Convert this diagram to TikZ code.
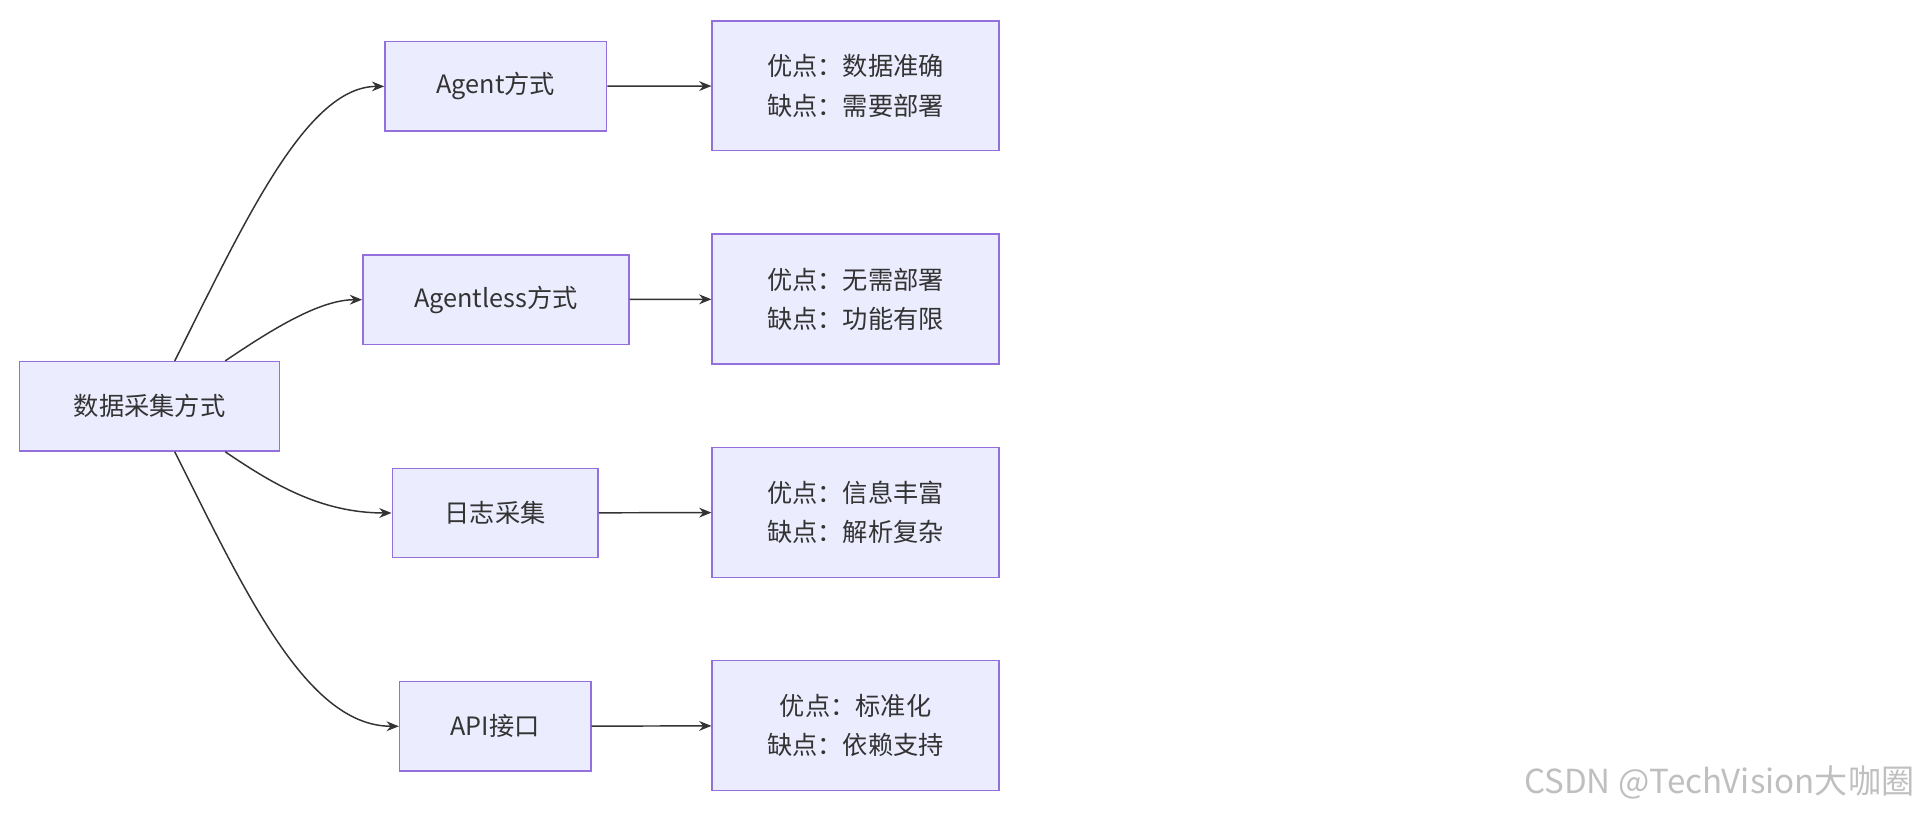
\documentclass[tikz,border=0pt]{standalone}
\usepackage{fontspec}
\setmainfont{Noto Sans CJK SC}
\usetikzlibrary{arrows.meta}
\definecolor{boxfill}{HTML}{ECECFF}
\definecolor{boxline}{HTML}{9370DB}
\definecolor{linkcol}{HTML}{333333}
\begin{document}
\begin{tikzpicture}[x=0.5pt,y=0.5pt,yscale=-1,xscale=1,
    box/.style={draw=boxline,fill=boxfill,line width=0.6pt,minimum height=36.5pt,inner sep=0pt,font=\fontsize{10.3}{12}\selectfont,text=linkcol},
    note/.style={box,minimum width=117pt,minimum height=53pt,align=center,font=\fontsize{10.3}{16}\selectfont},
    link/.style={draw=linkcol,line width=0.6pt,-{Stealth[length=5pt,width=4pt]}}]
    \useasboundingbox (0,0) rectangle (1568,667);

    % left side
    \node [box,minimum width=106pt] (root) at (122,331.5) {数据采集方式};
    \node [box,minimum width=90.5pt] (agent) at (404.5,70.5) {Agent方式};
    \node [box,minimum width=108.5pt] (agentless) at (404.5,244.5) {Agentless方式};
    \node [box,minimum width=84pt] (log) at (404,418.5) {日志采集};
    \node [box,minimum width=78pt] (api) at (404,592.5) {API接口};

    % right side
    \node [note] (agentNote) at (698,70) {优点：数据准确\\缺点：需要部署};
    \node [note] (agentlessNote) at (698,244) {优点：无需部署\\缺点：功能有限};
    \node [note] (logNote) at (698,418) {优点：信息丰富\\缺点：解析复杂};
    \node [note] (apiNote) at (698,592) {优点：标准化\\缺点：依赖支持};

    % links
    \draw [link] (root.61) .. controls (200,180) and (250,70.5) .. (agent.west);
    \draw [link] (root.31) .. controls (220,270) and (260,244.5) .. (agentless.west);
    \draw [link] (root.-31) .. controls (220,393) and (260,418.5) .. (log.west);
    \draw [link] (root.-61) .. controls (200,483) and (250,592.5) .. (api.west);
    \draw [link] (agent) -- (agentNote);
    \draw [link] (agentless) -- (agentlessNote);
    \draw [link] (log) -- (logNote);
    \draw [link] (api) -- (apiNote);

    % watermark
    \node [anchor=east,text=black!25,font=\fontsize{13.5}{15}\selectfont,inner sep=0pt] (mark) at (1562,638) {CSDN @TechVision大咖圈};
\end{tikzpicture}
\end{document}
